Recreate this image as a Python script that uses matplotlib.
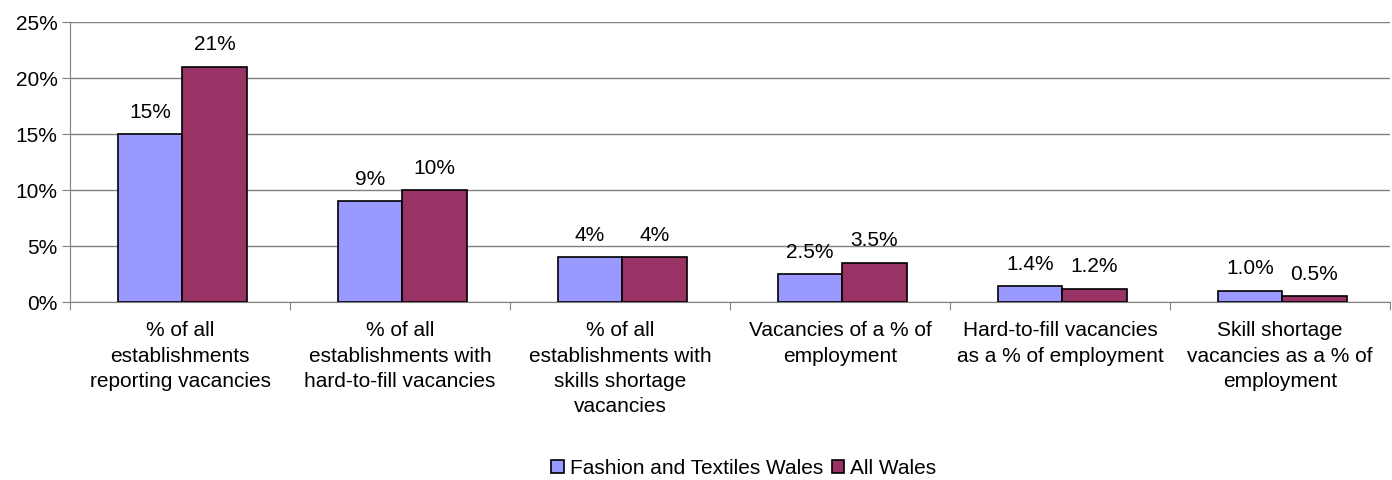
import matplotlib
matplotlib.use("Agg")
import matplotlib.pyplot as plt
import numpy as np
from matplotlib.ticker import FuncFormatter

plt.rcParams['font.family'] = ['Liberation Sans', 'DejaVu Sans']

# Vacancy measures, Fashion and Textiles Wales vs All Wales
categories = [
    "% of all\nestablishments\nreporting vacancies",
    "% of all\nestablishments with\nhard-to-fill vacancies",
    "% of all\nestablishments with\nskills shortage\nvacancies",
    "Vacancies of a % of\nemployment",
    "Hard-to-fill vacancies\nas a % of employment",
    "Skill shortage\nvacancies as a % of\nemployment",
]
fashion = [15, 9, 4, 2.5, 1.4, 1.0]
all_wales = [21, 10, 4, 3.5, 1.2, 0.5]
fashion_labels = ["15%", "9%", "4%", "2.5%", "1.4%", "1.0%"]
all_wales_labels = ["21%", "10%", "4%", "3.5%", "1.2%", "0.5%"]

FS = 15

fig = plt.figure(figsize=(13.92, 4.8), dpi=100)
ax = fig.add_axes([70 / 1392, 1 - 302 / 480, 1320 / 1392, 280 / 480])

x = np.arange(len(categories))
w = 0.293
b1 = ax.bar(x - w / 2 + 0.01, fashion, w, color="#9999FF", edgecolor="black", linewidth=1.2,
            zorder=3, label="Fashion and Textiles Wales")
b2 = ax.bar(x + w / 2 + 0.01, all_wales, w, color="#993366", edgecolor="black", linewidth=1.2,
            zorder=3, label="All Wales")

for bars, labs in ((b1, fashion_labels), (b2, all_wales_labels)):
    for bar, lab in zip(bars, labs):
        ax.annotate(lab, (bar.get_x() + bar.get_width() / 2, bar.get_height()),
                    xytext=(0, 9), textcoords="offset points", ha="center", va="bottom",
                    fontsize=FS)

ax.set_xlim(-0.5, len(categories) - 0.5)
ax.set_ylim(0, 25)
ax.set_yticks(range(0, 26, 5))
ax.yaxis.set_major_formatter(FuncFormatter(lambda v, p: f"{int(v)}%"))
ax.grid(axis="y", color="#808080", linewidth=1, zorder=0)

ax.set_xticks(np.arange(-0.5, len(categories), 1.0))
ax.set_xticklabels([])
ax.set_xticks(x, minor=True)
ax.set_xticklabels(categories, minor=True, fontsize=FS, linespacing=1.42, va="top")
ax.tick_params(axis="x", which="minor", length=0, pad=14)
ax.tick_params(axis="x", which="major", length=6, color="#808080")
ax.tick_params(axis="y", length=6, color="#808080", labelsize=FS, pad=3)

for side in ("top", "right"):
    ax.spines[side].set_visible(False)
for side in ("left", "bottom"):
    ax.spines[side].set_color("#808080")

fig.legend(handles=[b1, b2], loc="center", bbox_to_anchor=(744 / 1392, 1 - 468 / 480),
           ncol=2, frameon=False, fontsize=FS, handlelength=0.6, handleheight=0.6,
           handletextpad=0.3, columnspacing=0.4)

fig.savefig("out.png", dpi=100)
